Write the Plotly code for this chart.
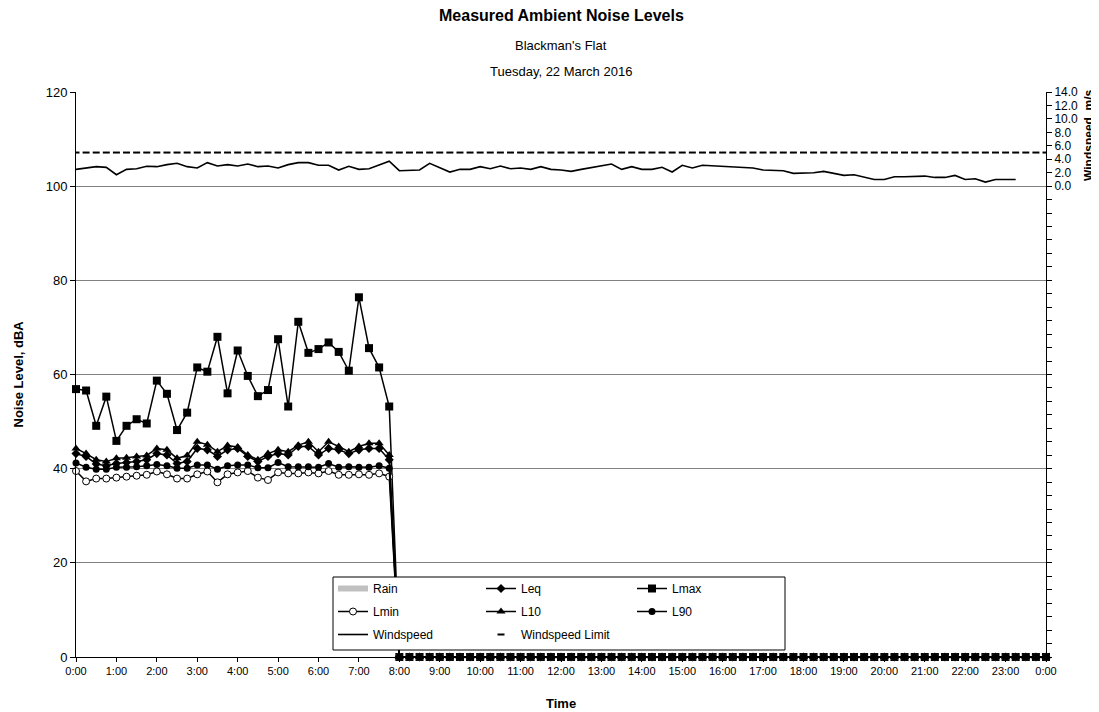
import plotly.graph_objects as go
import pandas as pd

# ---------------- data ----------------
# 15-minute intervals, Tuesday 22 March 2016 00:00 -> Wednesday 00:00
times = pd.date_range("2016-03-22 00:00", "2016-03-23 00:00", freq="15min")

# readings 00:00 .. 07:45 (32 intervals)
lmax_am = [56.9, 56.6, 49.1, 55.3, 45.9, 49.1, 50.5, 49.6, 58.7, 55.9, 48.2, 51.9,
           61.5, 60.6, 68.0, 56.0, 65.1, 59.7, 55.4, 56.7, 67.5, 53.2, 71.2, 64.6,
           65.4, 66.8, 64.8, 60.8, 76.4, 65.6, 61.5, 53.2]
l10_am = [44.3, 43.2, 41.9, 41.5, 42.2, 42.3, 42.6, 42.8, 44.3, 44.0, 42.2, 42.8,
          45.7, 45.1, 43.6, 44.9, 44.6, 42.9, 41.9, 43.2, 44.0, 43.6, 45.0, 45.7,
          43.6, 45.7, 44.7, 43.6, 44.7, 45.4, 45.4, 42.9]
leq_am = [43.2, 42.6, 41.0, 40.6, 41.1, 41.3, 41.5, 41.9, 43.2, 42.9, 41.1, 41.5,
          44.3, 44.0, 42.6, 44.0, 44.3, 42.6, 41.5, 42.6, 43.2, 42.9, 44.7, 44.7,
          42.9, 44.3, 44.0, 43.2, 44.0, 44.3, 44.3, 41.9]
l90_am = [41.2, 40.3, 39.9, 39.9, 40.3, 40.3, 40.4, 40.6, 40.9, 40.6, 40.1, 40.1,
          40.8, 40.8, 39.9, 40.6, 40.8, 40.8, 40.2, 40.2, 41.3, 40.4, 40.4, 40.4,
          40.3, 41.1, 40.3, 40.4, 40.3, 40.3, 40.6, 40.1]
lmin_am = [39.5, 37.3, 37.9, 37.9, 38.1, 38.3, 38.5, 38.7, 39.4, 38.8, 37.9, 37.9,
           38.8, 39.4, 37.1, 38.8, 39.2, 39.5, 38.1, 37.6, 39.2, 39.0, 39.0, 39.2,
           39.0, 39.5, 38.7, 38.7, 38.8, 38.7, 39.0, 38.3]

# logger reads 0 from 08:00 to 24:00 (65 intervals)
zero_readings = [0, 0, 0, 0, 0, 0, 0, 0, 0, 0, 0, 0, 0, 0, 0, 0, 0, 0, 0, 0, 0, 0,
                 0, 0, 0, 0, 0, 0, 0, 0, 0, 0, 0, 0, 0, 0, 0, 0, 0, 0, 0, 0, 0, 0,
                 0, 0, 0, 0, 0, 0, 0, 0, 0, 0, 0, 0, 0, 0, 0, 0, 0, 0, 0, 0, 0]

lmax = lmax_am + zero_readings
l10 = l10_am + zero_readings
leq = leq_am + zero_readings
l90 = l90_am + zero_readings
lmin = lmin_am + zero_readings

# windspeed, m/s (00:00 .. 23:15), no readings afterwards
windspeed = [2.5, 2.7, 2.9, 2.8, 1.7, 2.5, 2.6, 2.95, 2.9, 3.2, 3.4, 2.9, 2.7, 3.5,
             3.0, 3.2, 3.0, 3.3, 2.9, 3.0, 2.7, 3.2, 3.5, 3.5, 3.1, 3.1, 2.4, 2.95,
             2.5, 2.6, 3.1, 3.7, 2.3, 2.4, 2.4, 3.4, 2.8, 2.1, 2.5, 2.5, 2.9, 2.6,
             3.0, 2.6, 2.7, 2.5, 2.9, 2.5, 2.4,
             2.2, 2.5, 2.8, 3.1, 3.3, 2.5, 2.9, 2.5, 2.5, 2.8, 2.1, 3.1, 2.7, 3.1,
             3.0, 2.9, 2.9, 2.8, 2.7, 2.4, 2.3, 2.3, 1.9, 1.9, 2.0, 2.2, 1.9, 1.6,
             1.7, 1.4, 1.0, 1.0, 1.4, 1.4, 1.4, 1.5, 1.3, 1.3, 1.6, 1.0, 1.1, 0.6,
             1.0, 1.0, 1.0, None, None, None]

windspeed_limit = [5.0] * len(times)
rain = [None] * len(times)  # no rain recorded

left_ticks = [0, 20, 40, 60, 80, 100, 120]
ws_tickvals = list(range(-70, 15, 2))
ws_ticktext = [f"{v:.1f}" if v >= 0 else "" for v in ws_tickvals]

FONT = "Liberation Sans, Arial, sans-serif"

# ---------------- figure ----------------
fig = go.Figure()

fig.add_trace(go.Scatter(x=times, y=rain, name="Rain", mode="lines",
                         line=dict(color="#c0c0c0", width=6),
                         legend="legend", legendgroup="g1"))

def noise_trace(y, name, marker, legend, group):
    return go.Scatter(x=times, y=y, name=name, mode="lines+markers",
                      line=dict(color="black", width=1.5), marker=marker,
                      cliponaxis=False, legend=legend, legendgroup=group)

fig.add_trace(noise_trace(leq, "Leq", dict(symbol="diamond", size=7, color="black"),
                          "legend2", "g2"))
fig.add_trace(noise_trace(lmax, "Lmax", dict(symbol="square", size=8, color="black"),
                          "legend3", "g3"))
fig.add_trace(noise_trace(lmin, "Lmin", dict(symbol="circle", size=7, color="white",
                                             line=dict(color="black", width=1)),
                          "legend", "g4"))
fig.add_trace(noise_trace(l10, "L10", dict(symbol="triangle-up", size=8, color="black"),
                          "legend2", "g5"))
fig.add_trace(noise_trace(l90, "L90", dict(symbol="circle", size=7, color="black"),
                          "legend3", "g6"))

fig.add_trace(go.Scatter(x=times, y=windspeed, name="Windspeed", mode="lines",
                         line=dict(color="black", width=1.6), yaxis="y2",
                         legend="legend", legendgroup="g7"))
fig.add_trace(go.Scatter(x=times, y=windspeed_limit, name="Windspeed Limit",
                         mode="markers", yaxis="y2",
                         marker=dict(symbol="line-ew", size=5,
                                     line=dict(color="black", width=2)),
                         legend="legend2", legendgroup="g8"))

# the page body adds an 8 px offset; the figure is sized to compensate
W, H = 1091, 704
ML, MR, MT, MB = 68, 45, 84, 47
PW, PH = W - ML - MR, H - MT - MB   # 978? -> plot area
PLOT_L, PLOT_T = 76, 92             # plot area position on the page
PLOT_W, PLOT_H = 970, 565

def px_x(x):
    return (x - PLOT_L) / PLOT_W

def px_y(y):
    return (PLOT_T + PLOT_H - y) / PLOT_H

# legend frame
fig.add_shape(type="rect", xref="paper", yref="paper",
              x0=px_x(333), x1=px_x(785), y0=px_y(650), y1=px_y(577),
              line=dict(color="black", width=1), fillcolor="white", layer="above")

leg_common = dict(yanchor="top", xanchor="left", bgcolor="rgba(0,0,0,0)",
                  borderwidth=0, font=dict(family=FONT, size=12, color="black"),
                  tracegroupgap=4, traceorder="grouped", itemclick=False)
leg_y = px_y(574)

fig.update_layout(
    width=W, height=H,
    margin=dict(l=68, r=1091 - 68 - 970, t=84, b=704 - 84 - 565),
    paper_bgcolor="white", plot_bgcolor="white",
    font=dict(family=FONT, color="black"),
    legend=dict(x=px_x(333), y=leg_y, **leg_common),
    legend2=dict(x=px_x(481), y=leg_y, **leg_common),
    legend3=dict(x=px_x(632), y=leg_y, **leg_common),
    xaxis=dict(
        type="date", range=[times[0], times[-1]],
        tickformat="%-H:%M", dtick=3600000, tick0=times[0],
        showgrid=False, zeroline=False,
        showline=True, linecolor="black", linewidth=1,
        ticks="outside", ticklen=4, tickcolor="black",
        tickfont=dict(family=FONT, size=11),
    ),
    yaxis=dict(
        range=[0, 120], tickvals=left_ticks,
        showgrid=True, gridcolor="#808080", gridwidth=1, zeroline=False,
        showline=True, linecolor="black", linewidth=1,
        ticks="outside", ticklen=5, tickcolor="black",
        tickfont=dict(family=FONT, size=13),
    ),
    yaxis2=dict(
        overlaying="y", side="right", range=[-70, 14],
        tickvals=ws_tickvals, ticktext=ws_ticktext,
        showgrid=False, zeroline=False,
        showline=True, linecolor="black", linewidth=1,
        ticks="outside", ticklen=5, tickcolor="black",
        tickfont=dict(family=FONT, size=12),
    ),
    showlegend=True,
)

# titles
fig.add_annotation(text="<b>Measured Ambient Noise Levels</b>", xref="paper", yref="paper",
                   x=0.5, y=1, yshift=77, showarrow=False, yanchor="middle",
                   font=dict(family=FONT, size=16))
fig.add_annotation(text="Blackman's Flat", xref="paper", yref="paper",
                   x=0.5, y=1, yshift=47, showarrow=False, yanchor="middle",
                   font=dict(family=FONT, size=13))
fig.add_annotation(text="Tuesday, 22 March 2016", xref="paper", yref="paper",
                   x=0.5, y=1, yshift=21, showarrow=False, yanchor="middle",
                   font=dict(family=FONT, size=13))
fig.add_annotation(text="<b>Noise Level, dBA</b>", xref="paper", yref="paper",
                   x=px_x(18), y=0.5, textangle=-90, showarrow=False,
                   xanchor="center", yanchor="middle", font=dict(family=FONT, size=13))
fig.add_annotation(text="<b>Time</b>", xref="paper", yref="paper",
                   x=0.5, y=px_y(703), showarrow=False,
                   xanchor="center", yanchor="middle", font=dict(family=FONT, size=13))
fig.add_annotation(text="<b>Windspeed, m/s</b>", xref="paper", yref="paper",
                   x=px_x(1089), y=px_y(135), textangle=-90, showarrow=False,
                   xanchor="center", yanchor="middle", font=dict(family=FONT, size=12))

fig.write_html("out.html")
